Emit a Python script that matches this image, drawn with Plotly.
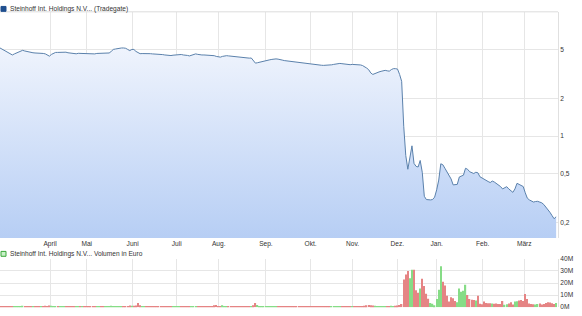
import plotly.graph_objects as go

# Trading-day index for each daily observation (x positions on the axis)
price = [
    5.16, 5.04, 4.93, 4.79, 4.70, 4.58, 4.53, 4.62, 4.70, 4.79,
    4.88, 4.94, 4.88, 4.84, 4.75, 4.70, 4.72, 4.70, 4.70, 4.67,
    4.70, 4.66, 4.62, 4.53, 4.43, 4.58, 4.70, 4.75, 4.75, 4.77,
    4.79, 4.81, 4.77, 4.72, 4.70, 4.66, 4.62, 4.63, 4.67, 4.66,
    4.70, 4.70, 4.67, 4.66, 4.63, 4.62, 4.62, 4.66, 4.67, 4.66,
    4.63, 4.66, 4.67, 4.70, 4.84, 5.02, 5.06, 5.11, 5.13, 5.16,
    5.16, 5.13, 5.02, 4.91, 5.02, 5.02, 4.84, 4.70, 4.64, 4.65,
    4.66, 4.66, 4.64, 4.64, 4.62, 4.62, 4.61, 4.59, 4.58, 4.56,
    4.53, 4.51, 4.48, 4.48, 4.51, 4.53, 4.57, 4.59, 4.57, 4.53,
    4.53, 4.49, 4.45, 4.51, 4.58, 4.62, 4.58, 4.53, 4.53, 4.53,
    4.53, 4.53, 4.53, 4.51, 4.47, 4.41, 4.37, 4.35, 4.41, 4.45,
    4.47, 4.45, 4.43, 4.41, 4.38, 4.37, 4.35, 4.34, 4.31, 4.29,
    4.28, 4.27, 4.28, 4.11, 3.89, 3.92, 3.96, 4.00, 4.06, 4.09,
    4.11, 4.14, 4.17, 4.20, 4.21, 4.19, 4.18, 4.12, 4.08, 4.06,
    4.04, 4.02, 4.00, 3.98, 3.95, 3.92, 3.89, 3.87, 3.85, 3.82,
    3.80, 3.78, 3.76, 3.75, 3.75, 3.75, 3.74, 3.73, 3.73, 3.73,
    3.73, 3.77, 3.80, 3.83, 3.86, 3.87, 3.85, 3.82, 3.81, 3.80,
    3.78, 3.80, 3.80, 3.79, 3.77, 3.76, 3.72, 3.66, 3.55, 3.44,
    3.24, 3.15, 3.21, 3.25, 3.30, 3.34, 3.39, 3.40, 3.37, 3.35,
    3.45, 3.51, 3.51, 3.48, 3.15, 2.77, 1.20, 0.695, 0.538, 0.670,
    0.833, 0.600, 0.568, 0.561, 0.634, 0.509, 0.325, 0.306, 0.303, 0.304,
    0.306, 0.320, 0.367, 0.440, 0.596, 0.585, 0.548, 0.514, 0.491, 0.449,
    0.402, 0.402, 0.406, 0.466, 0.474, 0.482, 0.548, 0.538, 0.514, 0.504,
    0.497, 0.509, 0.504, 0.468, 0.456, 0.444, 0.436, 0.428, 0.420, 0.432,
    0.424, 0.413, 0.402, 0.390, 0.373, 0.380, 0.389, 0.373, 0.359, 0.350,
    0.373, 0.414, 0.406, 0.398, 0.390, 0.347, 0.314, 0.304, 0.297, 0.292,
    0.295, 0.296, 0.292, 0.288, 0.279, 0.267, 0.255, 0.241, 0.227, 0.214,
    0.222,
]

volume_m = [
    0.6, 0.9, 0.5, 0.7, 1.0, 0.8, 0.6, 0.5, 0.9, 0.7,
    0.6, 1.1, 0.8, 0.5, 0.7, 0.6, 0.9, 0.8, 0.5, 0.7,
    0.6, 0.8, 1.2, 1.0, 1.4, 1.1, 0.8, 0.6, 0.7, 0.9,
    0.5, 0.6, 0.8, 0.7, 0.6, 0.5, 0.9, 0.7, 0.6, 0.8,
    0.7, 0.5, 0.6, 0.9, 0.8, 0.6, 0.7, 0.5, 0.6, 0.8,
    1.0, 0.7, 0.6, 0.5, 1.2, 1.0, 0.8, 0.7, 0.9, 0.6,
    0.7, 0.8, 1.0, 1.3, 1.1, 1.2, 1.4, 3.5, 1.6, 0.8,
    0.7, 0.6, 0.8, 0.7, 0.5, 0.6, 0.7, 0.6, 0.8, 0.5,
    0.6, 0.7, 0.5, 0.6, 0.8, 0.7, 0.6, 0.9, 0.7, 0.6,
    0.5, 0.7, 0.8, 0.6, 0.7, 0.5, 0.6, 0.7, 0.5, 0.6,
    0.7, 0.6, 0.5, 0.8, 1.5, 1.8, 0.9, 1.0, 1.6, 0.8,
    0.7, 0.6, 0.5, 0.6, 0.7, 0.6, 0.5, 0.7, 0.6, 0.8,
    0.7, 0.8, 0.9, 1.5, 3.5, 1.8, 1.0, 0.8, 0.7, 0.6,
    0.5, 0.6, 0.7, 0.6, 0.5, 0.6, 0.7, 0.8, 0.6, 0.5,
    0.6, 0.5, 0.7, 0.6, 0.5, 0.6, 0.7, 0.5, 0.6, 0.7,
    0.8, 0.6, 0.5, 0.6, 0.5, 0.7, 0.6, 0.5, 0.6, 0.7,
    0.6, 0.8, 0.7, 0.6, 0.5, 0.6, 0.7, 0.6, 0.5, 0.6,
    0.7, 0.6, 0.5, 0.6, 0.7, 0.8, 1.0, 1.2, 1.5, 1.8,
    1.6, 1.4, 1.2, 1.0, 0.9, 0.8, 0.7, 0.8, 0.7, 0.9,
    1.2, 1.0, 1.1, 1.4, 1.8, 2.5, 23.0, 27.0, 30.0, 24.0,
    31.0, 31.0, 14.0, 12.0, 15.5, 23.5, 17.5, 11.0, 7.0, 3.5,
    2.7, 1.5, 6.7, 14.4, 34.0, 21.0, 18.0, 9.5, 4.6, 8.1,
    7.3, 5.1, 4.0, 15.5, 12.7, 13.5, 18.5, 10.0, 6.7, 6.2,
    5.9, 5.4, 9.5, 2.7, 2.4, 4.6, 3.5, 3.2, 3.2, 3.0,
    2.8, 3.0, 2.6, 2.5, 5.1, 2.0, 2.4, 3.0, 4.0, 2.2,
    4.6, 4.8, 5.4, 6.0, 5.0, 10.8, 6.7, 3.0, 2.6, 2.4,
    2.2, 2.5, 3.0, 2.2, 2.6, 3.4, 4.0, 3.8, 3.2, 2.6,
    3.5,
]

month_labels = ["April", "Mai", "Juni", "Juli", "Aug.", "Sep.", "Okt.",
                "Nov.", "Dez.", "Jan.", "Feb.", "März"]
month_start_idx = [24.3, 42.1, 64.4, 85.8, 106.2, 129.1, 150.8, 171.2,
                   192.9, 212.0, 234.3, 254.5]
price_ticks = [0.2, 0.5, 1, 2, 5]
price_tick_text = ["0,2", "0,5", "1", "2", "5"]
vol_ticks = [0, 10e6, 20e6, 30e6, 40e6]
vol_tick_text = ["0M", "10M", "20M", "30M", "40M"]

title_price = "Steinhoff Int. Holdings N.V... (Tradegate)"
title_volume = "Steinhoff Int. Holdings N.V... Volumen in Euro"

n = len(price)
days = list(range(n))
volume = [v * 1e6 for v in volume_m[:n]]
bar_colors = []
for i in range(n):
    up = i > 0 and price[i] > price[i - 1]
    bar_colors.append("#86dc86" if up else "#e58484")

W, H = 582, 316
plot_right = 558 / W
FONT = "Liberation Sans, Arial, sans-serif"
y_log_range = [-0.8256, 1.0053]

fig = go.Figure()
fig.add_trace(go.Scatter(
    x=days, y=price, mode="lines",
    line=dict(color="#5a80ab", width=1),
    fill="tozeroy",
    fillgradient=dict(type="vertical", start=0.149, stop=6.0,
                      colorscale=[[0, "#b5cdf4"], [1, "#f1f5fd"]]),
    xaxis="x", yaxis="y", hoverinfo="skip", showlegend=False,
))
fig.add_trace(go.Bar(
    x=days, y=volume, marker=dict(color=bar_colors, line=dict(width=0)),
    xaxis="x2", yaxis="y2", showlegend=False, hoverinfo="skip",
))

grid = "#e6e6e6"
tickfont = dict(family=FONT, size=6.6, color="#333333")
legfont = dict(family=FONT, size=6.6, color="#333333")

fig.update_layout(
    width=W, height=H,
    margin=dict(l=0, r=0, t=0, b=0),
    paper_bgcolor="white", plot_bgcolor="white",
    bargap=0.35,
    xaxis=dict(domain=[0, plot_right], range=[0, 270.9], anchor="y",
               tickvals=month_start_idx, ticktext=month_labels,
               showgrid=True, gridcolor=grid, gridwidth=1, zeroline=False,
               ticks="", tickfont=tickfont, showline=False),
    yaxis=dict(domain=[(H - 239.3) / H, (H - 8) / H], type="log",
               range=y_log_range, side="right", anchor="x",
               tickvals=price_ticks, ticktext=price_tick_text,
               showgrid=True, gridcolor=grid, ticks="", tickfont=tickfont,
               showline=True, linecolor="#e0e0e0", linewidth=1,
               zeroline=False),
    xaxis2=dict(domain=[0, plot_right], range=[0, 270.9], anchor="y2",
                tickvals=month_start_idx, showticklabels=False,
                showgrid=True, gridcolor=grid, zeroline=False, ticks=""),
    yaxis2=dict(domain=[(H - 310) / H, (H - 260.7) / H], range=[0, 40e6],
                side="right", anchor="x2",
                tickvals=vol_ticks, ticktext=vol_tick_text,
                showgrid=True, gridcolor=grid, ticks="", tickfont=tickfont,
                zeroline=False, showline=True, linecolor="#e0e0e0"),
    shapes=[
        dict(type="line", xref="paper", yref="paper",
             x0=0, x1=plot_right, y0=1 - 8 / H, y1=1 - 8 / H,
             line=dict(color="#dcdcdc", width=1)),
        dict(type="rect", xref="paper", yref="paper",
             x0=1 / W, x1=6 / W, y0=1 - 7.5 / H, y1=1 - 2.5 / H,
             fillcolor="#1f4f8f", line=dict(color="#1f4f8f", width=1)),
        dict(type="rect", xref="paper", yref="paper",
             x0=1 / W, x1=6 / W, y0=1 - 258 / H, y1=1 - 253 / H,
             fillcolor="#c9f1c9", line=dict(color="#3aa83a", width=1)),
    ],
    annotations=[
        dict(text=title_price, xref="paper", yref="paper",
             x=8 / W, y=1 - 5 / H, xanchor="left", yanchor="middle",
             showarrow=False, font=legfont),
        dict(text=title_volume, xref="paper", yref="paper",
             x=8 / W, y=1 - 255.5 / H, xanchor="left", yanchor="middle",
             showarrow=False, font=legfont),
    ],
)

fig.write_html("out.html")
